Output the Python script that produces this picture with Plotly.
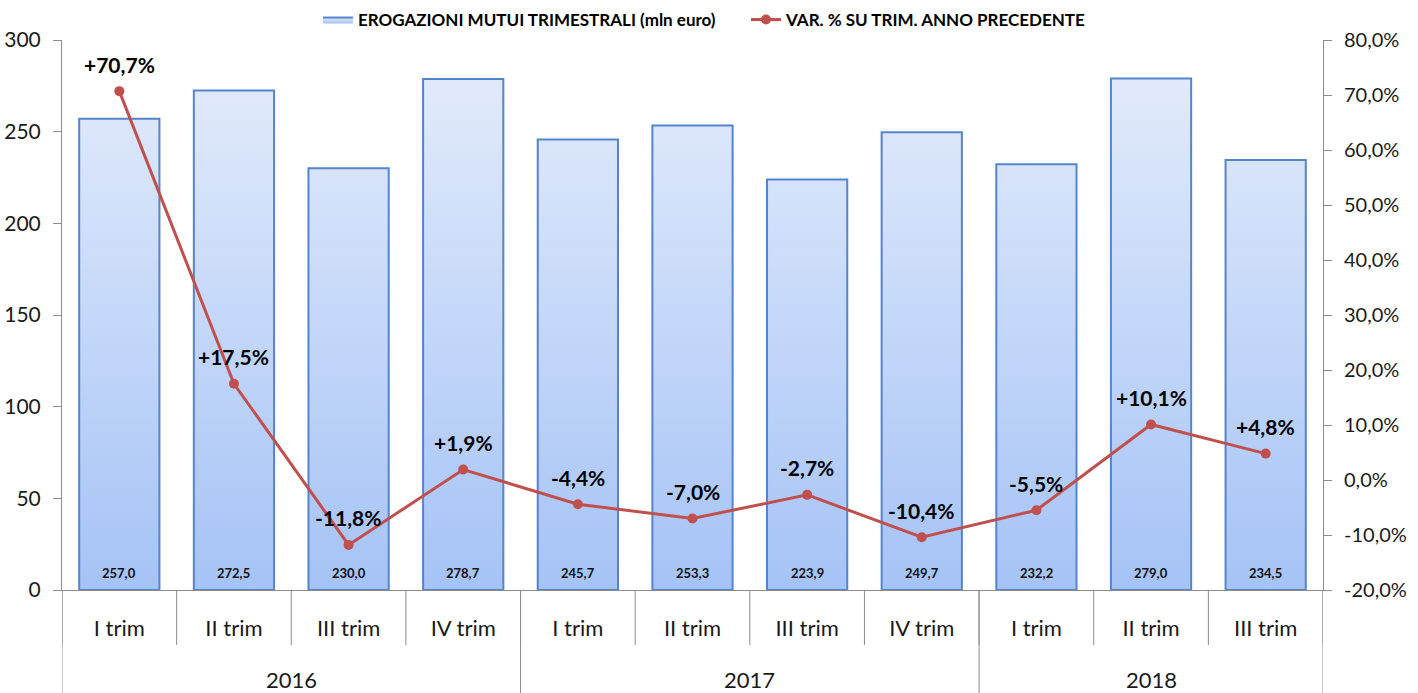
import plotly.graph_objects as go

# ---- data ----
years = ["2016", "2017", "2018"]
year_sizes = [4, 4, 3]
quarters = ["I trim", "II trim", "III trim", "IV trim",
            "I trim", "II trim", "III trim", "IV trim",
            "I trim", "II trim", "III trim"]
erogazioni = [257.0, 272.5, 230.0, 278.7, 245.7, 253.3, 223.9, 249.7, 232.2, 279.0, 234.5]
var_pct = [70.7, 17.5, -11.8, 1.9, -4.4, -7.0, -2.7, -10.4, -5.5, 10.1, 4.8]
left_ticks = [0, 50, 100, 150, 200, 250, 300]
right_ticks = [-20, -10, 0, 10, 20, 30, 40, 50, 60, 70, 80]

FONT = "Lato"
BAR_W = 0.7
n = len(quarters)
idx = list(range(n))

def it(v, dec=1):
    return f"{v:.{dec}f}".replace(".", ",")

# gradient bar polygons built from the data
px, py = [], []
for i, v in zip(idx, erogazioni):
    x0, x1 = i - BAR_W / 2, i + BAR_W / 2
    px += [x0, x0, x1, x1, x0, None]
    py += [0, v, v, 0, 0, None]

fig = go.Figure()
fig.add_trace(go.Scatter(
    x=px, y=py, mode="lines", fill="toself",
    fillgradient=dict(type="vertical", colorscale=[[0, "#a5c3f6"], [1, "#e1eafb"]]),
    line=dict(color="#5485cc", width=2),
    name="EROGAZIONI MUTUI TRIMESTRALI (mln euro)",
    hoverinfo="skip",
))
fig.add_trace(go.Scatter(
    x=idx, y=var_pct, yaxis="y2", mode="lines+markers",
    line=dict(color="#c0504d", width=3),
    marker=dict(color="#c0504d", size=10),
    name="VAR. % SU TRIM. ANNO PRECEDENTE",
))

axis_col = "#8c8c8c"
# dividers under the category axis
shapes = []
for b in range(n + 1):
    xb = b - 0.5
    shapes.append(dict(type="line", xref="x", yref="paper", x0=xb, x1=xb,
                       y0=0, y1=-0.1, line=dict(color=axis_col, width=1)))
cum = 0
bounds = [0]
for s in year_sizes:
    cum += s
    bounds.append(cum)
for b in bounds:
    xb = b - 0.5
    shapes.append(dict(type="line", xref="x", yref="paper", x0=xb, x1=xb,
                       y0=0, y1=-0.19, line=dict(color=axis_col, width=1)))

annotations = []
for k, yname in enumerate(years):
    center = (bounds[k] + bounds[k + 1] - 1) / 2
    annotations.append(dict(x=center, y=-0.163, xref="x", yref="paper",
                            text=yname, showarrow=False,
                            font=dict(family=FONT, size=22, color="#1a1a1a"),
                            xanchor="center", yanchor="middle"))
# bar value labels (inside, at base)
for i, v in zip(idx, erogazioni):
    annotations.append(dict(x=i, y=0, xref="x", yref="y", yshift=17,
                            text="<b>" + it(v) + "</b>", showarrow=False,
                            font=dict(family=FONT, size=13, color="#111111"),
                            xanchor="center", yanchor="middle"))
# line value labels
for i, v in zip(idx, var_pct):
    annotations.append(dict(x=i, y=v, xref="x", yref="y2", yshift=27,
                            text="<b>" + ("+" if v > 0 else "") + it(v) + "%</b>",
                            showarrow=False,
                            font=dict(family=FONT, size=21, color="#000000"),
                            xanchor="center", yanchor="middle"))

fig.update_layout(
    width=1418, height=693,
    margin=dict(l=62, r=95, t=40, b=103),
    plot_bgcolor="white", paper_bgcolor="white",
    font=dict(family=FONT, color="#222222"),
    showlegend=True,
    legend=dict(orientation="h", x=(318 - 62) / 1261, xanchor="left",
                yref="container", y=1 - 20 / 693, yanchor="middle",
                entrywidth=383,
                font=dict(family=FONT, size=17, color="#000000", weight="bold"),
                bgcolor="rgba(0,0,0,0)"),
    xaxis=dict(range=[-0.5, n - 0.5], tickvals=idx, ticktext=quarters,
               showgrid=False, zeroline=False, showline=True, linecolor=axis_col,
               ticks="", tickfont=dict(family=FONT, size=22, color="#1a1a1a"),
               ticklabelstandoff=19, automargin=False),
    yaxis=dict(range=[0, 300], tickvals=left_ticks, ticktext=[str(t) for t in left_ticks],
               showgrid=False, zeroline=False, showline=True, linecolor=axis_col,
               ticks="outside", ticklen=8, tickcolor=axis_col,
               ticklabelstandoff=8,
               tickfont=dict(family=FONT, size=21, color="#1a1a1a"), automargin=False),
    yaxis2=dict(range=[-20, 80], overlaying="y", side="right",
                tickvals=right_ticks, ticktext=[it(t) + "%" for t in right_ticks],
                showgrid=False, zeroline=False, showline=True, linecolor=axis_col,
                ticks="outside", ticklen=8, tickcolor=axis_col,
                ticklabelstandoff=8,
                tickfont=dict(family=FONT, size=20, color="#1a1a1a"), automargin=False),
    shapes=shapes,
    annotations=annotations,
)

fig.write_html("out.html", config={"displayModeBar": False},
               post_script="document.body.style.margin='0px';")
